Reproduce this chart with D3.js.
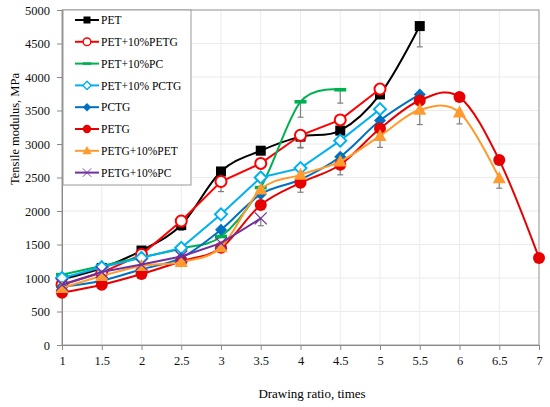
<!DOCTYPE html>
<html>
<head>
<meta charset="utf-8">
<script src="https://cdn.jsdelivr.net/npm/d3@7"></script>
<style>
  body { margin: 0; background: #fff; }
  svg text { font-family: "Liberation Serif", "Times New Roman", "DejaVu Serif", serif; }
</style>
</head>
<body>
<svg id="chart" width="550" height="407"></svg>
<script>
// drawing ratios
const xs = [1, 1.5, 2, 2.5, 3, 3.5, 4, 4.5, 5, 5.5, 6, 6.5, 7]

// tensile modulus, MPa (one array per sample)
const pet       = [980, 1150, 1410, 1790, 2590, 2900, 3110, 3200, 3740, 4760]
const petPetg   = [900, 1080, 1350, 1850, 2440, 2710, 3130, 3360, 3820]
const petPc     = [1050, 1180, 1310, 1440, 1620, 2350, 3630, 3810]
const petPctg   = [1000, 1160, 1300, 1450, 1950, 2500, 2640, 3050, 3520]
const pctg      = [870, 960, 1130, 1300, 1720, 2250, 2470, 2810, 3350, 3740]
const petg      = [780, 900, 1060, 1250, 1450, 2090, 2420, 2690, 3230, 3650, 3700, 2760, 1300]
const petgPet   = [850, 1030, 1180, 1240, 1460, 2320, 2540, 2740, 3120, 3510, 3470, 2490]
const petgPc    = [900, 1090, 1200, 1320, 1520, 1890]

// minus error bars
const petErr     = [0, 0, 0, 80, 0, 0, 160, 0, 0, 310]
const petPetgErr = [0, 0, 0, 0, 150, 0, 190, 0, 0]
const petPcErr   = [0, 0, 0, 0, 0, 0, 230, 200]
const petPctgErr = [0, 0, 0, 0, 0, 0, 0, 0, 0]
const pctgErr    = [0, 0, 0, 0, 0, 0, 0, 0, 0, 0]
const petgErr    = [0, 0, 0, 0, 0, 0, 140, 150, 0, 0, 0, 0, 0]
const petgPetErr = [0, 0, 0, 0, 0, 0, 0, 0, 170, 220, 170, 150]
const petgPcErr  = [0, 0, 0, 0, 0, 110]

const xTicks = [1, 1.5, 2, 2.5, 3, 3.5, 4, 4.5, 5, 5.5, 6, 6.5, 7]
const yTicks = [0, 500, 1000, 1500, 2000, 2500, 3000, 3500, 4000, 4500, 5000]

const series = [
  { name: "PET", v: pet, e: petErr, color: "#000000", marker: "square", smooth: true },
  { name: "PET+10%PETG", v: petPetg, e: petPetgErr, color: "#ff0000", marker: "ocircle", smooth: false },
  { name: "PET+10%PC", v: petPc, e: petPcErr, color: "#00b050", marker: "dash", smooth: true },
  { name: "PET+10% PCTG", v: petPctg, e: petPctgErr, color: "#00b0f0", marker: "odiamond", smooth: false },
  { name: "PCTG", v: pctg, e: pctgErr, color: "#0070c0", marker: "diamond", smooth: true },
  { name: "PETG", v: petg, e: petgErr, color: "#e60000", marker: "circle", smooth: true },
  { name: "PETG+10%PET", v: petgPet, e: petgPetErr, color: "#ff9a2e", marker: "triangle", smooth: true },
  { name: "PETG+10%PC", v: petgPc, e: petgPcErr, color: "#7030a0", marker: "cross", smooth: false }
]

const serif = "'Liberation Serif', 'Times New Roman', 'DejaVu Serif', serif"
const margin = { top: 10, right: 11, bottom: 62, left: 62 }
const W = 550, H = 407
const w = W - margin.left - margin.right
const h = H - margin.top - margin.bottom

const svg = d3.select("#chart")
const g = svg.append("g").attr("transform", `translate(${margin.left},${margin.top})`)

const x = d3.scaleLinear().domain([1, 7]).range([0, w])
const y = d3.scaleLinear().domain([0, 5000]).range([h, 0])

// grid
g.append("g").selectAll("line").data(xTicks.slice(1)).enter().append("line")
  .attr("x1", d => x(d)).attr("x2", d => x(d))
  .attr("y1", 0).attr("y2", h)
  .attr("stroke", "#ebebeb")
g.append("g").selectAll("line").data(yTicks.slice(1)).enter().append("line")
  .attr("x1", 0).attr("x2", w)
  .attr("y1", d => y(d)).attr("y2", d => y(d))
  .attr("stroke", "#ebebeb")

// frame
g.append("rect").attr("width", w).attr("height", h)
  .attr("fill", "none").attr("stroke", "#9a9a9a")

// axes
const xAxis = g.append("g").attr("transform", `translate(0,${h})`)
  .call(d3.axisBottom(x).tickValues(xTicks).tickSize(5).tickPadding(6).tickFormat(d3.format("")))
const yAxis = g.append("g")
  .call(d3.axisLeft(y).tickValues(yTicks).tickSize(5).tickPadding(7).tickFormat(d3.format("")))
;[xAxis, yAxis].forEach(a => {
  a.attr("font-family", serif).attr("font-size", 12.5)
  a.select(".domain").attr("stroke", "#898989")
  a.selectAll(".tick line").attr("stroke", "#898989")
  a.selectAll("text").attr("fill", "#111")
})

// axis titles
svg.append("text").attr("x", 312).attr("y", 398).attr("text-anchor", "middle")
  .attr("font-family", serif).attr("font-size", 13).text("Drawing ratio, times")
svg.append("text").attr("transform", "translate(19,129) rotate(-90)").attr("text-anchor", "middle")
  .attr("font-family", serif).attr("font-size", 12.5).text("Tensile modulus, MPa")

// error bars (minus only)
series.forEach(s => {
  const pts = s.v.map((v, i) => ({ x: xs[i], v: v, e: s.e[i] })).filter(p => p.e > 0)
  const eb = g.append("g").attr("stroke", "#7f7f7f").attr("stroke-width", 1.2)
  eb.selectAll(".eb").data(pts).enter().append("line")
    .attr("x1", d => x(d.x)).attr("x2", d => x(d.x))
    .attr("y1", d => y(d.v)).attr("y2", d => y(d.v - d.e))
  eb.selectAll(".cap").data(pts).enter().append("line")
    .attr("x1", d => x(d.x) - 3).attr("x2", d => x(d.x) + 3)
    .attr("y1", d => y(d.v - d.e)).attr("y2", d => y(d.v - d.e))
})

function drawMarker(sel, type, color) {
  if (type === "square") {
    sel.append("rect").attr("x", -5).attr("y", -5).attr("width", 10).attr("height", 10).attr("fill", color)
  } else if (type === "ocircle") {
    sel.append("circle").attr("r", 5.5).attr("fill", "#fff").attr("stroke", color).attr("stroke-width", 2)
  } else if (type === "circle") {
    sel.append("circle").attr("r", 6).attr("fill", color)
  } else if (type === "dash") {
    sel.append("rect").attr("x", -6).attr("y", -1.8).attr("width", 12).attr("height", 3.6).attr("fill", color)
  } else if (type === "odiamond") {
    sel.append("path").attr("d", "M0,-6L6,0L0,6L-6,0Z").attr("fill", "#fff").attr("stroke", color).attr("stroke-width", 2)
  } else if (type === "diamond") {
    sel.append("path").attr("d", "M0,-6L6,0L0,6L-6,0Z").attr("fill", color)
  } else if (type === "triangle") {
    sel.append("path").attr("d", "M0,-7L6.5,5L-6.5,5Z").attr("fill", color)
  } else if (type === "cross") {
    sel.append("path").attr("d", "M-6,-6L6,6M-6,6L6,-6").attr("stroke", color).attr("stroke-width", 1.3).attr("fill", "none")
  }
}

// series lines and markers
series.forEach(s => {
  const pts = s.v.map((v, i) => [xs[i], v])
  const line = d3.line().x(d => x(d[0])).y(d => y(d[1]))
    .curve(s.smooth ? d3.curveCardinal.tension(0) : d3.curveLinear)
  g.append("path").datum(pts).attr("d", line)
    .attr("fill", "none").attr("stroke", s.color).attr("stroke-width", 2)
  g.append("g").selectAll("g").data(pts).enter().append("g")
    .attr("transform", d => `translate(${x(d[0])},${y(d[1])})`)
    .each(function() { drawMarker(d3.select(this), s.marker, s.color) })
})

// legend
const lg = g.append("g").attr("transform", "translate(1,0)")
lg.append("rect").attr("width", 128).attr("height", 175)
  .attr("fill", "#fff").attr("stroke", "#9a9a9a")
series.forEach((s, i) => {
  const row = lg.append("g").attr("transform", `translate(0,${10 + i * 21.8})`)
  row.append("line").attr("x1", 12).attr("x2", 36).attr("stroke", s.color).attr("stroke-width", 2)
  const m = row.append("g")
  drawMarker(m, s.marker, s.color)
  m.attr("transform", "translate(24,0) scale(0.7)")
  row.append("text").attr("x", 38).attr("y", 4.2)
    .attr("font-family", serif).attr("font-size", 11.5).text(s.name)
})
</script>
</body>
</html>
